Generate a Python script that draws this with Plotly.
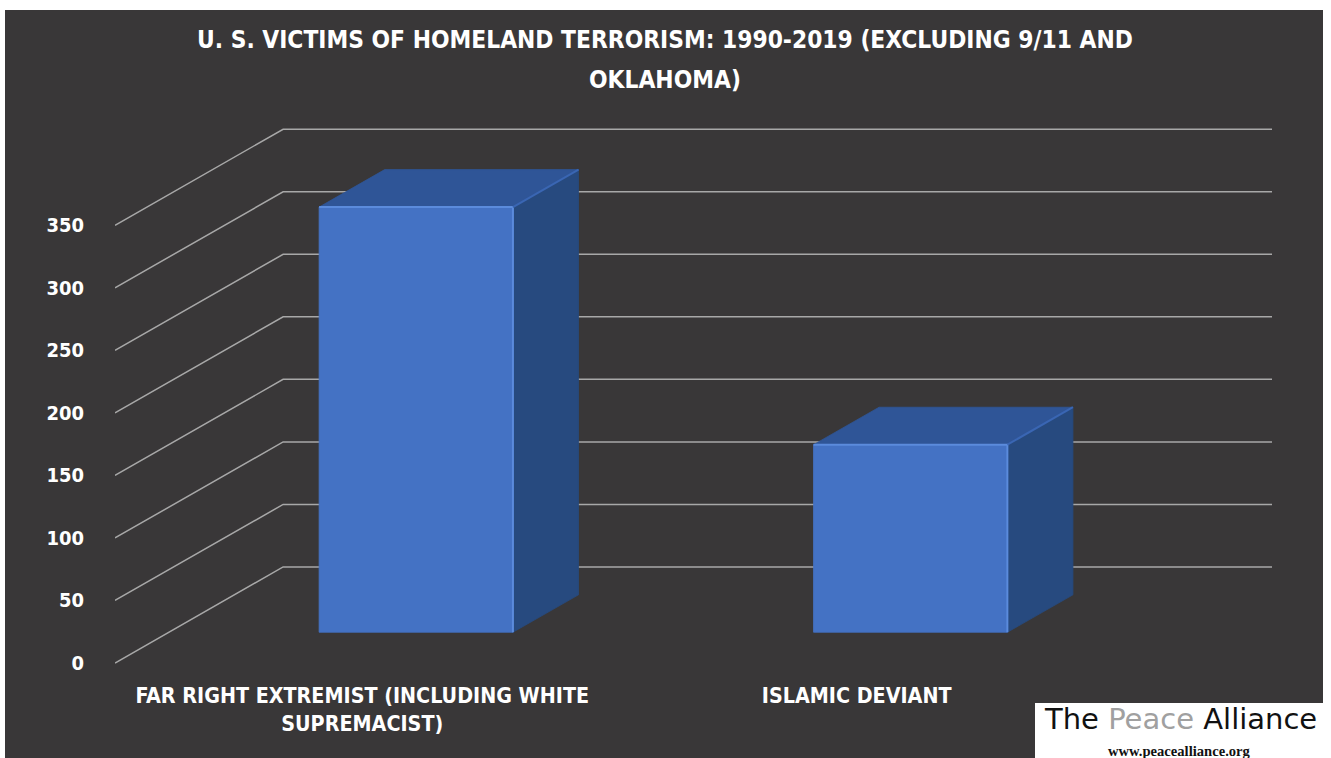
import plotly.graph_objects as go

# ---- data -------------------------------------------------------------
categories = [
    "FAR RIGHT EXTREMIST (INCLUDING WHITE<br>SUPREMACIST)",
    "ISLAMIC DEVIANT",
]
victims = [340, 150]
y_ticks = [0, 50, 100, 150, 200, 250, 300, 350]

title_lines = [
    "U. S. VICTIMS OF HOMELAND TERRORISM: 1990-2019 (EXCLUDING 9/11 AND",
    "OKLAHOMA)",
]

# ---- page / plot geometry --------------------------------------------
W, H = 1331, 758
M_L, M_R, M_T, M_B = 115, 59, 120, 90
PLOT_W = W - M_L - M_R
PLOT_H = H - M_T - M_B

# oblique "3-D" depth of the chart floor, in axis units
DEPTH_X = 0.34          # category units
DEPTH_Y = 76.8          # value units
BAR_W = 0.392           # bar width, category units
F_FRONT, F_BACK = 0.32, 0.71   # bar front / back faces as fraction of depth

X_RANGE = [0, len(categories) + DEPTH_X]
Y_RANGE = [-4.0, 434.2]

BG = "#393738"
GRID = "#a8a8a8"
FRONT = "#4472c4"
TOP = "#2f5597"
SIDE = "#274a7f"
EDGE = "#5b8bdc"

COND = "'DejaVu Sans Condensed', 'Liberation Sans Narrow', 'Roboto Condensed', 'DejaVu Sans', sans-serif"


def px_x(px):
    return (px - M_L) / PLOT_W


def px_y(py):
    return (H - M_B - py) / PLOT_H


fig = go.Figure()

# ---- gridlines: diagonal on the side wall, horizontal on the back wall --
gx, gy = [], []
for v in y_ticks:
    gx += [0, DEPTH_X, len(categories) + DEPTH_X, None]
    gy += [v, v + DEPTH_Y, v + DEPTH_Y, None]
fig.add_trace(go.Scatter(
    x=gx, y=gy, mode="lines",
    line=dict(color=GRID, width=1.5),
    hoverinfo="skip", showlegend=False,
))


# ---- bars as front / top / side faces ---------------------------------
def face(xs, ys, color, name):
    fig.add_trace(go.Scatter(
        x=xs + [xs[0]], y=ys + [ys[0]], mode="lines", fill="toself",
        fillcolor=color, line=dict(color=color, width=0.8),
        hoverinfo="skip", showlegend=False, name=name,
    ))


for i, v in enumerate(victims):
    c = i + 0.5
    x0, x1 = c - BAR_W / 2, c + BAR_W / 2
    fx, fy = F_FRONT * DEPTH_X, F_FRONT * DEPTH_Y
    bx, by = F_BACK * DEPTH_X, F_BACK * DEPTH_Y
    # side face
    face([x1 + fx, x1 + bx, x1 + bx, x1 + fx],
         [fy, by, v + by, v + fy], SIDE, "side")
    # top face
    face([x0 + fx, x1 + fx, x1 + bx, x0 + bx],
         [v + fy, v + fy, v + by, v + by], TOP, "top")
    # front face
    face([x0 + fx, x1 + fx, x1 + fx, x0 + fx],
         [fy, fy, v + fy, v + fy], FRONT, "front")
    # light bevel on the front top and right edges
    fig.add_trace(go.Scatter(
        x=[x0 + fx, x1 + fx, x1 + fx], y=[v + fy, v + fy, fy],
        mode="lines", line=dict(color=EDGE, width=2),
        hoverinfo="skip", showlegend=False,
    ))
    fig.add_trace(go.Scatter(
        x=[x1 + fx, x1 + bx], y=[v + fy, v + by],
        mode="lines", line=dict(color="#3a66b3", width=2),
        hoverinfo="skip", showlegend=False,
    ))

# ---- title -------------------------------------------------------------
annotations = []
for line, cy in zip(title_lines, [40, 79]):
    annotations.append(dict(
        text=line, xref="paper", yref="paper",
        x=px_x(665), y=px_y(cy), xanchor="center", yanchor="middle",
        showarrow=False,
        font=dict(family=COND, size=24.3, color="white", weight="bold"),
    ))

# ---- logo box ------------------------------------------------------------
annotations.append(dict(
    text="The <span style='color:#a0a0a0'>Peace</span> Alliance",
    xref="paper", yref="paper", x=px_x(1180), y=px_y(719),
    xanchor="center", yanchor="middle", showarrow=False,
    font=dict(family="'DejaVu Sans', sans-serif", size=29, color="#111111"),
))
annotations.append(dict(
    text="www.peacealliance.org",
    xref="paper", yref="paper", x=px_x(1179), y=px_y(751),
    xanchor="center", yanchor="middle", showarrow=False,
    font=dict(family="'Liberation Serif', serif", size=14.6, color="#111111",
              weight="bold"),
))

shapes = [
    # white frame strips around the dark panel
    dict(type="rect", xref="paper", yref="paper", layer="above",
         x0=px_x(0), x1=px_x(W), y0=px_y(0), y1=px_y(10),
         fillcolor="white", line=dict(width=0)),
    dict(type="rect", xref="paper", yref="paper", layer="above",
         x0=px_x(0), x1=px_x(5), y0=px_y(0), y1=px_y(H),
         fillcolor="white", line=dict(width=0)),
    dict(type="rect", xref="paper", yref="paper", layer="above",
         x0=px_x(1323), x1=px_x(W), y0=px_y(0), y1=px_y(H),
         fillcolor="white", line=dict(width=0)),
    # logo background
    dict(type="rect", xref="paper", yref="paper", layer="above",
         x0=px_x(1035), x1=px_x(W), y0=px_y(703), y1=px_y(H),
         fillcolor="white", line=dict(width=0)),
]

fig.update_layout(
    width=W, height=H,
    margin=dict(l=M_L, r=M_R, t=M_T, b=M_B, pad=0),
    paper_bgcolor=BG, plot_bgcolor=BG,
    showlegend=False,
    annotations=annotations,
    shapes=shapes,
    xaxis=dict(
        range=X_RANGE, tickmode="array",
        tickvals=[i + 0.5 for i in range(len(categories))],
        ticktext=categories,
        showgrid=False, zeroline=False, showline=False, ticks="",
        ticklabelstandoff=13,
        tickfont=dict(family=COND, size=21.3, color="white", weight="bold"),
        fixedrange=True,
    ),
    yaxis=dict(
        range=Y_RANGE, tickmode="array", tickvals=y_ticks,
        showgrid=False, zeroline=False, showline=False, ticks="",
        ticklabelstandoff=30,
        tickfont=dict(family=COND, size=20, color="white", weight="bold"),
        fixedrange=True,
    ),
)

fig.write_html("out.html")
